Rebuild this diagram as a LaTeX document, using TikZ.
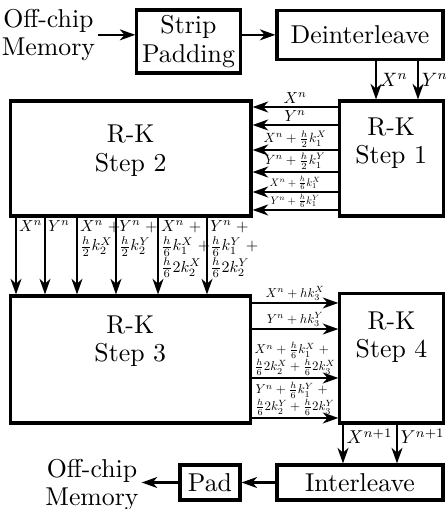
\documentclass[tikz,border=0pt]{standalone}
\usepackage{amsmath}
\usetikzlibrary{arrows.meta,positioning,calc}
\tikzset{
  block/.style  = {draw, very thick, fill=white, inner sep=2pt, align=center},
  rktext/.style = {align=center, inner sep=1pt, font={\fontsize{10}{11}\selectfont}},
  sig/.style    = {-{Stealth[length=6pt,width=4.2pt,inset=1.8pt]}, line width=1pt},
  lbl/.style    = {inner sep=1.5pt, scale=#1},
  lbl/.default  = 0.62,
}

\begin{document}
\begin{tikzpicture}[x=1cm,y=1cm]
  \useasboundingbox (0,0) rectangle (6.076,6.935);
  % input side
  \node[rktext] (memin) at (0.66,6.46) {Off-chip\\Memory};
  \node[block, rktext, inner sep=2pt, minimum width=1.24cm, minimum height=0.858cm] (strip) at (2.568,6.369) {Strip\\Padding};
  \node[block, minimum width=2.262cm, minimum height=0.668cm] (deint) at (4.905,6.46) {Deinterleave};
  \draw[sig] (memin.east) -- (strip.west |- memin.east);
  \draw[sig] (strip.east |- deint.west) -- (deint.west);
  % R-K blocks
  \node[block, minimum width=1.415cm, minimum height=1.567cm] (rk1) at (5.33,4.775) {};
  \node[rktext, below=2.1mm of rk1.north] (rk1txt) {R-K\\Step 1};
  \node[block, minimum width=3.28cm, minimum height=1.567cm] (rk2) at (1.78,4.775) {};
  \node[rktext, below=3.1mm of rk2.north] (rk2txt) {R-K\\Step 2};
  \node[block, minimum width=3.27cm, minimum height=1.73cm] (rk3) at (1.775,2.037) {};
  \node[rktext, below=2.5mm of rk3.north] (rk3txt) {R-K\\Step 3};
  \node[block, minimum width=1.405cm, minimum height=1.77cm] (rk4) at (5.334,2.057) {};
  \node[rktext, below=2.3mm of rk4.north] (rk4txt) {R-K\\Step 4};
  % deinterleave -> step 1
  \draw[sig] (deint.south -| 5.123,0) -- (rk1.north -| 5.123,0) node[midway, right, lbl=0.75] {$X^n$};
  \draw[sig] (deint.south -| 5.695,0) -- (rk1.north -| 5.695,0) node[midway, right, lbl=0.75] {$Y^n$};
  % step 1 -> step 2
  \draw[sig] (rk1.west |- 0,5.477) -- (rk2.east |- 0,5.477) node[midway, above, lbl] {$X^n$};
  \draw[sig] (rk1.west |- 0,5.232) -- (rk2.east |- 0,5.232) node[midway, above, lbl] {$Y^n$};
  \draw[sig] (rk1.west |- 0,4.891) -- (rk2.east |- 0,4.891) node[midway, above, lbl=0.52] {$X^n + \frac{h}{2}k_1^X$};
  \draw[sig] (rk1.west |- 0,4.591) -- (rk2.east |- 0,4.591) node[midway, above, lbl=0.52] {$Y^n + \frac{h}{2}k_1^Y$};
  \draw[sig] (rk1.west |- 0,4.319) -- (rk2.east |- 0,4.319) node[midway, above, lbl=0.42] {$X^n + \frac{h}{6}k_1^X$};
  \draw[sig] (rk1.west |- 0,4.074) -- (rk2.east |- 0,4.074) node[midway, above, lbl=0.42] {$Y^n + \frac{h}{6}k_1^Y$};
  % step 2 -> step 3
  \draw[sig] (rk2.south -| 0.218,0) -- (rk3.north -| 0.218,0) node[pos=0, anchor=north west, lbl] {$X^n$};
  \draw[sig] (rk2.south -| 0.613,0) -- (rk3.north -| 0.613,0) node[pos=0, anchor=north west, lbl] {$Y^n$};
  \draw[sig] (rk2.south -| 1.049,0) -- (rk3.north -| 1.049,0) node[pos=0, anchor=north west, lbl, align=left] {$X^n\;+$\\$\frac{h}{2}k_2^X$};
  \draw[sig] (rk2.south -| 1.580,0) -- (rk3.north -| 1.580,0) node[pos=0, anchor=north west, lbl, align=left] {$Y^n\;+$\\$\frac{h}{2}k_2^Y$};
  \draw[sig] (rk2.south -| 2.153,0) -- (rk3.north -| 2.153,0) node[pos=0, anchor=north west, lbl, align=left] {$X^n\;+$\\$\frac{h}{6}k_1^X\;+$\\$\frac{h}{6}2k_2^X$};
  \draw[sig] (rk2.south -| 2.820,0) -- (rk3.north -| 2.820,0) node[pos=0, anchor=north west, lbl, align=left] {$Y^n\;+$\\$\frac{h}{6}k_1^Y\;+$\\$\frac{h}{6}2k_2^Y$};
  % step 3 -> step 4
  \draw[sig] (rk3.east |- 0,2.807) -- (rk4.west |- 0,2.807) node[midway, above, lbl=0.5] {$X^n + hk_3^X$};
  \draw[sig] (rk3.east |- 0,2.452) -- (rk4.west |- 0,2.452) node[midway, above, lbl=0.5] {$Y^n + hk_3^Y$};
  \draw[sig] (rk3.east |- 0,1.785) -- (rk4.west |- 0,1.785) node[midway, above, lbl=0.5, align=left] {$X^n + \frac{h}{6}k_1^X\;+$\\$\frac{h}{6}2k_2^X + \frac{h}{6}2k_3^X$};
  \draw[sig] (rk3.east |- 0,1.240) -- (rk4.west |- 0,1.240) node[midway, above, lbl=0.5, align=left] {$Y^n + \frac{h}{6}k_1^Y\;+$\\$\frac{h}{6}2k_2^Y + \frac{h}{6}2k_3^Y$};
  % output side
  \node[block, minimum width=2.262cm, minimum height=0.477cm] (inter) at (4.905,0.361) {Interleave};
  \node[block, minimum width=0.817cm, minimum height=0.477cm] (pad) at (2.861,0.361) {Pad};
  \node[rktext] (memout) at (1.253,0.327) {Off-chip\\Memory};
  \draw[sig] (rk4.south -| 4.673,0) -- (inter.north -| 4.673,0) node[pos=0.3, right, lbl=0.72] {$X^{n+1}$};
  \draw[sig] (rk4.south -| 5.409,0) -- (inter.north -| 5.409,0) node[pos=0.3, right, lbl=0.72] {$Y^{n+1}$};
  \draw[sig] (inter.west) -- (pad.east);
  \draw[sig] (pad.west) -- (memout.east |- pad.west);
\end{tikzpicture}
\end{document}
